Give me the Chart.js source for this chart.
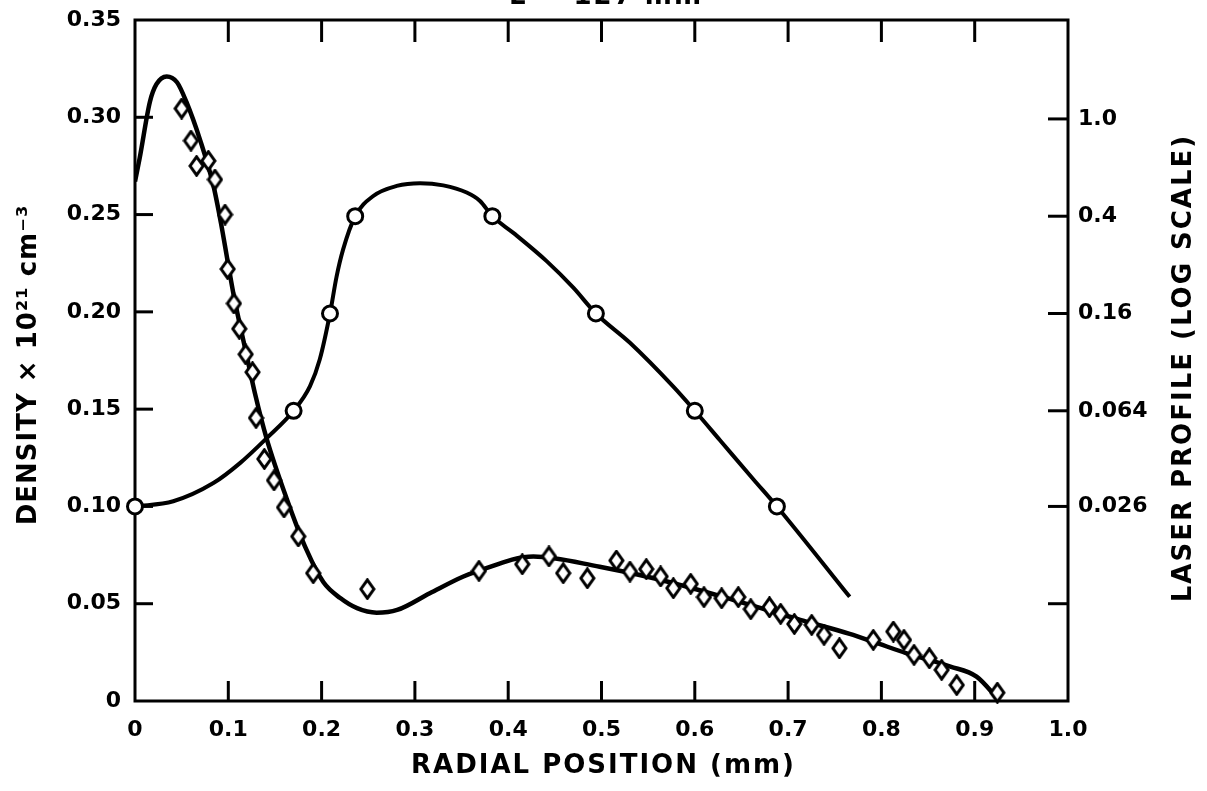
<!DOCTYPE html>
<html><head><meta charset="utf-8">
<script src="https://cdn.jsdelivr.net/npm/chart.js@4/dist/chart.umd.min.js"></script>
<style>html,body{margin:0;padding:0;background:#fff}canvas{display:block}</style>
</head><body>
<canvas id="c" width="1207" height="791"></canvas>
<script>
// ---- tick values / labels ----
const xTickValues = [0, 0.1, 0.2, 0.3, 0.4, 0.5, 0.6, 0.7, 0.8, 0.9, 1.0];
const xTickLabels = ["0", "0.1", "0.2", "0.3", "0.4", "0.5", "0.6", "0.7", "0.8", "0.9", "1.0"];
const densityTickValues = [0, 0.05, 0.10, 0.15, 0.20, 0.25, 0.30, 0.35];
const densityTickLabels = ["0", "0.05", "0.10", "0.15", "0.20", "0.25", "0.30", "0.35"];
const laserTickValues = [0.0104, 0.026, 0.064, 0.16, 0.4, 1.0];
const laserTickLabels = ["", "0.026", "0.064", "0.16", "0.4", "1.0"];

// ---- measured density (diamonds) ----
const densityX = [0.050, 0.060, 0.066, 0.0786, 0.0857, 0.0965, 0.0993, 0.106, 0.1118, 0.1186, 0.126, 0.1297, 0.1386, 0.149, 0.1597, 0.175, 0.191, 0.249,
  0.3687, 0.4151, 0.4437, 0.459, 0.4848, 0.516, 0.5305, 0.548, 0.5634, 0.577, 0.5956, 0.6098, 0.6288, 0.6466, 0.66, 0.68, 0.692, 0.7067, 0.7253, 0.7385, 0.755,
  0.7913, 0.8128, 0.8242, 0.835, 0.8514, 0.8646, 0.8807, 0.9243];
const densityY = [0.3045, 0.288, 0.275, 0.2776, 0.268, 0.250, 0.222, 0.2043, 0.1913, 0.1782, 0.169, 0.1455, 0.1244, 0.1134, 0.0995, 0.0846, 0.0657, 0.0575,
  0.0669, 0.0703, 0.0743, 0.0657, 0.0631, 0.0722, 0.0665, 0.0678, 0.064, 0.058, 0.0602, 0.0534, 0.0528, 0.0534, 0.0472, 0.0482, 0.0448, 0.0396, 0.0391, 0.034, 0.0271,
  0.0314, 0.0357, 0.0314, 0.0237, 0.022, 0.016, 0.0082, 0.0043];

// ---- density fit curve ----
const fitX = [0, 0.005, 0.016, 0.023, 0.034, 0.045, 0.055, 0.070, 0.084, 0.092, 0.0993, 0.106, 0.1186, 0.1286, 0.141, 0.1626, 0.184, 0.202, 0.220, 0.238,
  0.259, 0.281, 0.316, 0.352, 0.366, 0.427, 0.498, 0.563, 0.641, 0.713, 0.766, 0.791, 0.827, 0.874, 0.902, 0.925];
const fitY = [0.267, 0.279, 0.308, 0.317, 0.321, 0.318, 0.308, 0.288, 0.265, 0.246, 0.226, 0.208, 0.180, 0.158, 0.135, 0.104, 0.0775, 0.061, 0.0529, 0.0477,
  0.0454, 0.0468, 0.0554, 0.064, 0.0665, 0.0743, 0.069, 0.0623, 0.052, 0.0417, 0.0345, 0.0305, 0.0245, 0.0177, 0.0125, 0.001];

// ---- laser profile (circles, log scale) ----
const laserX = [0, 0.170, 0.209, 0.236, 0.383, 0.494, 0.600, 0.688];
const laserProfile = [0.026, 0.064, 0.16, 0.4, 0.4, 0.16, 0.064, 0.026];

// ---- laser profile curve ----
const laserCurveX = [0, 0.041, 0.084, 0.1125, 0.141, 0.170, 0.1876, 0.198, 0.209, 0.216, 0.223, 0.236, 0.2554, 0.2805, 0.3055, 0.3304, 0.3555, 0.3698, 0.383,
  0.4055, 0.4412, 0.4698, 0.494, 0.5305, 0.577, 0.600, 0.627, 0.6627, 0.688, 0.766];
const laserCurveProfile = [0.026, 0.0273, 0.0324, 0.0391, 0.0494, 0.064, 0.0807, 0.1037, 0.16, 0.226, 0.292, 0.4, 0.484, 0.532, 0.546, 0.535, 0.500, 0.462, 0.4,
  0.342, 0.262, 0.204, 0.16, 0.1214, 0.0803, 0.064, 0.0485, 0.0336, 0.026, 0.0111];

const titleTop = "L = 127 mm";
const titleX = "RADIAL POSITION (mm)";
const titleLeft = "DENSITY \u00d7 10\u00b2\u00b9 cm\u207b\u00b3";
const titleRight = "LASER PROFILE (LOG SCALE)";

const pairs = (xs, ys) => xs.map((x, i) => ({ x: x, y: ys[i] }));

// diamond marker (taller than wide)
const diamond = document.createElement('canvas');
diamond.width = 17; diamond.height = 22;
(function () {
  const g = diamond.getContext('2d');
  g.beginPath();
  g.moveTo(8.5, 1.8); g.lineTo(15, 11); g.lineTo(8.5, 20.2); g.lineTo(2, 11); g.closePath();
  g.fillStyle = '#fff'; g.fill();
  g.lineWidth = 3; g.strokeStyle = '#000'; g.lineJoin = 'miter'; g.stroke();
})();

const FONT = '"DejaVu Sans", "Liberation Sans", sans-serif';

const framePlugin = {
  id: 'frame',
  beforeDatasetsDraw(chart) {
    const { ctx, chartArea: a, scales } = chart;
    ctx.save();
    ctx.strokeStyle = '#000';
    ctx.lineCap = 'butt';
    ctx.lineWidth = 3;
    ctx.strokeRect(a.left, a.top, a.right - a.left, a.bottom - a.top);
    const seg = (x1, y1, x2, y2) => { ctx.beginPath(); ctx.moveTo(x1, y1); ctx.lineTo(x2, y2); ctx.stroke(); };
    xTickValues.forEach(v => {
      if (v <= 0 || v >= 1) return;
      const px = scales.x.getPixelForValue(v);
      seg(px, a.bottom, px, a.bottom - 20);
      seg(px, a.top, px, a.top + 22);
    });
    densityTickValues.forEach(v => {
      if (v <= 0 || v >= 0.35) return;
      const py = scales.y.getPixelForValue(v);
      seg(a.left, py, a.left + 18, py);
    });
    laserTickValues.forEach(v => {
      const py = scales.y2.getPixelForValue(v);
      seg(a.right, py, a.right - 20, py);
    });
    ctx.restore();
  },
  afterDraw(chart) {
    const { ctx, chartArea: a } = chart;
    ctx.save();
    ctx.fillStyle = '#000';
    ctx.font = 'bold 26px ' + FONT;
    ctx.letterSpacing = '2px';
    ctx.textAlign = 'center';
    ctx.textBaseline = 'alphabetic';
    ctx.fillText(titleTop, 606, 4);
    ctx.fillText(titleX, (a.left + a.right) / 2 + 2, 773);
    ctx.textBaseline = 'middle';
    ctx.save();
    ctx.letterSpacing = '1px';
    ctx.translate(29, 365);
    ctx.rotate(-Math.PI / 2);
    ctx.fillText(titleLeft, 0, 0);
    ctx.restore();
    ctx.save();
    ctx.letterSpacing = '2px';
    ctx.translate(1184, 368);
    ctx.rotate(-Math.PI / 2);
    ctx.fillText(titleRight, 0, 0);
    ctx.restore();
    ctx.restore();
  }
};

const tickFont = { family: FONT, size: 22, weight: 'bold' };
const noPad = s => { s.paddingTop = 0; s.paddingBottom = 0; s.paddingLeft = 0; s.paddingRight = 0; };

new Chart(document.getElementById('c'), {
  type: 'scatter',
  data: {
    datasets: [
      {
        label: 'Density (measured)', data: pairs(densityX, densityY), yAxisID: 'y', showLine: false,
        pointStyle: diamond, pointRadius: 8, order: 0, clip: false
      },
      {
        label: 'Laser profile (points)', data: pairs(laserX, laserProfile), yAxisID: 'y2', showLine: false,
        pointStyle: 'circle', pointRadius: 7.5, pointBorderWidth: 3, pointBackgroundColor: '#fff', pointBorderColor: '#000', order: 0, clip: false
      },
      {
        label: 'Density fit', type: 'line', data: pairs(fitX, fitY), yAxisID: 'y', borderColor: '#000', borderWidth: 4.5,
        pointRadius: 0, cubicInterpolationMode: 'monotone', fill: false, order: 2
      },
      {
        label: 'Laser profile', type: 'line', data: pairs(laserCurveX, laserCurveProfile), yAxisID: 'y2', borderColor: '#000', borderWidth: 4,
        pointRadius: 0, cubicInterpolationMode: 'monotone', fill: false, order: 2
      }
    ]
  },
  options: {
    responsive: false, animation: false, devicePixelRatio: 1,
    layout: { padding: { top: 20, left: 0, right: 0, bottom: 0 } },
    plugins: { legend: { display: false }, tooltip: { enabled: false } },
    scales: {
      x: {
        type: 'linear', position: 'bottom', min: 0, max: 1.0,
        grid: { display: false, drawTicks: false }, border: { display: false },
        afterBuildTicks: s => { s.ticks = xTickValues.map(v => ({ value: v })); },
        afterFit: s => { s.height = 90; noPad(s); },
        ticks: { font: tickFont, color: '#000', padding: 16, autoSkip: false, maxRotation: 0,
          callback: (v, i) => xTickLabels[i] }
      },
      y: {
        type: 'linear', position: 'left', min: 0, max: 0.35,
        grid: { display: false, drawTicks: false }, border: { display: false },
        afterBuildTicks: s => { s.ticks = densityTickValues.map(v => ({ value: v })); },
        afterFit: s => { s.width = 135; noPad(s); },
        ticks: { font: tickFont, color: '#000', padding: 14, autoSkip: false,
          callback: (v, i) => densityTickLabels[i] }
      },
      y2: {
        type: 'logarithmic', position: 'right', min: 0.026 / 6.25, max: 0.026 * 97.65625,
        grid: { display: false, drawTicks: false }, border: { display: false },
        afterBuildTicks: s => { s.ticks = laserTickValues.map(v => ({ value: v })); },
        afterFit: s => { s.width = 139; noPad(s); },
        ticks: { font: tickFont, color: '#000', padding: 10, autoSkip: false,
          callback: (v, i) => laserTickLabels[i] }
      }
    }
  },
  plugins: [framePlugin]
});
</script>
</body></html>
